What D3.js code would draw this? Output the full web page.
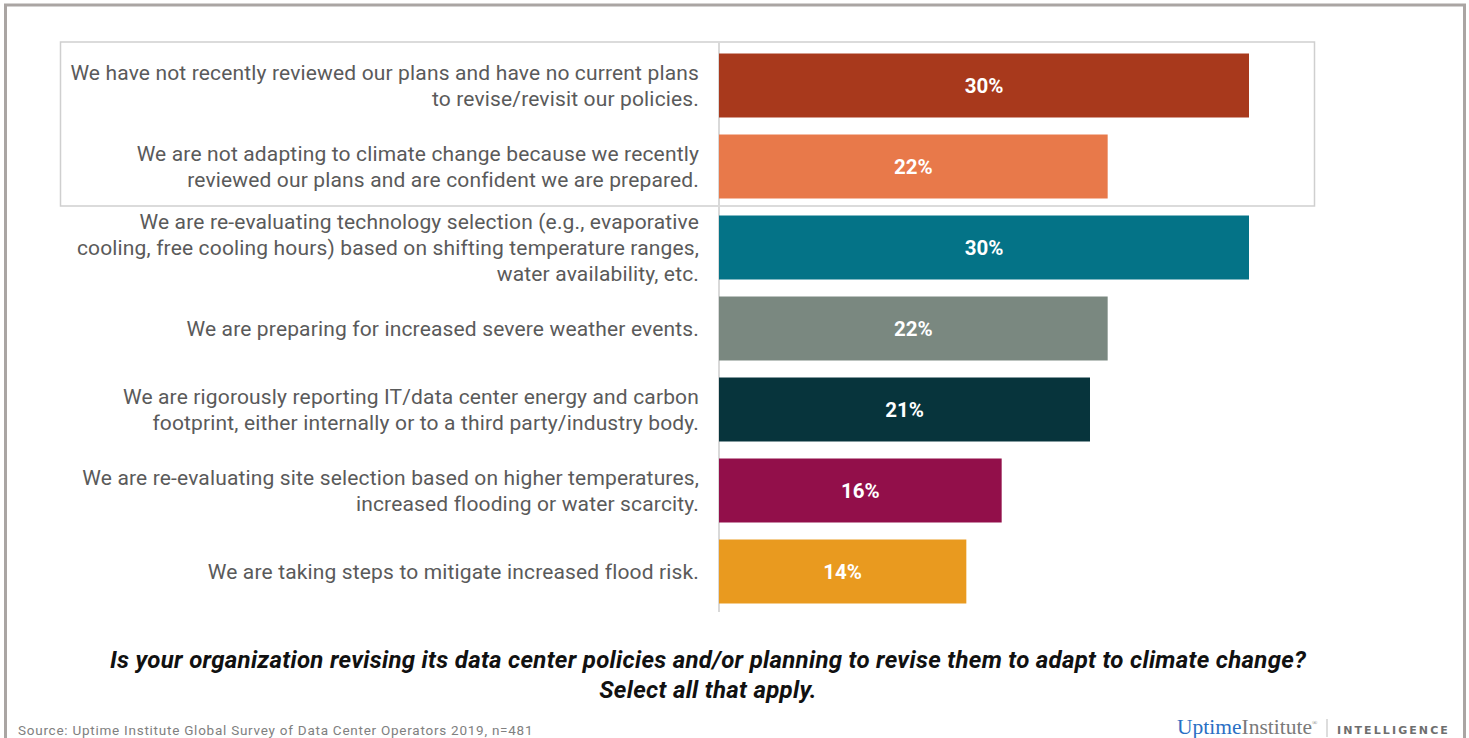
<!DOCTYPE html>
<html>
<head>
<meta charset="utf-8">
<script src="https://cdn.jsdelivr.net/npm/d3@7"></script>
<style>
  html, body { margin: 0; padding: 0; background: #ffffff; }
  svg { display: block; }
</style>
</head>
<body>
<svg id="chart" width="1469" height="738"></svg>
<script>
// Survey responses: each category label is split into its display lines
const categories = [
  ["We have not recently reviewed our plans and have no current plans", "to revise/revisit our policies."],
  ["We are not adapting to climate change because we recently", "reviewed our plans and are confident we are prepared."],
  ["We are re-evaluating technology selection (e.g., evaporative", "cooling, free cooling hours) based on shifting temperature ranges,", "water availability, etc."],
  ["We are preparing for increased severe weather events."],
  ["We are rigorously reporting IT/data center energy and carbon", "footprint, either internally or to a third party/industry body."],
  ["We are re-evaluating site selection based on higher temperatures,", "increased flooding or water scarcity."],
  ["We are taking steps to mitigate increased flood risk."]
];
const values = [30, 22, 30, 22, 21, 16, 14];
const barColors = ["#a8391c", "#e8794a", "#047387", "#7a8880", "#07343c", "#920f4a", "#e99a1f"];
const titleLines = [
  "Is your organization revising its data center policies and/or planning to revise them to adapt to climate change?",
  "Select all that apply."
];
const sourceText = "Source: Uptime Institute Global Survey of Data Center Operators 2019, n=481";

const svg = d3.select("#chart");
const ids = d3.range(categories.length);

// Outer frame
svg.append("rect")
  .attr("x", 5.5).attr("y", 5)
  .attr("width", 1459).attr("height", 800)
  .attr("fill", "none")
  .attr("stroke", "#aaa5a3")
  .attr("stroke-width", 3);

// Box highlighting the first two responses
svg.append("rect")
  .attr("x", 60.5).attr("y", 42)
  .attr("width", 1254).attr("height", 164)
  .attr("fill", "none")
  .attr("stroke", "#cfcfcf")
  .attr("stroke-width", 1.5);

const x = d3.scaleLinear().domain([0, 30]).range([719, 1249]);
const y = d3.scaleBand().domain(ids).range([45, 612])
  .paddingInner(0.21).paddingOuter(0.105);

// Category axis line
svg.append("line")
  .attr("x1", x(0)).attr("x2", x(0))
  .attr("y1", 42).attr("y2", 612)
  .attr("stroke", "#d9d9d9")
  .attr("stroke-width", 2);

// Bars
svg.append("g").selectAll("rect")
  .data(ids)
  .join("rect")
  .attr("x", x(0))
  .attr("y", i => y(i))
  .attr("width", i => x(values[i]) - x(0))
  .attr("height", y.bandwidth())
  .attr("fill", i => barColors[i]);

// Value labels inside the bars
svg.append("g").selectAll("text")
  .data(ids)
  .join("text")
  .attr("x", i => (x(0) + x(values[i])) / 2)
  .attr("y", i => y(i) + y.bandwidth() / 2)
  .attr("dy", "0.36em")
  .attr("text-anchor", "middle")
  .attr("fill", "#ffffff")
  .style("font-family", "Roboto, sans-serif")
  .style("font-weight", "700")
  .style("font-size", "20.5px")
  .text(i => d3.format(".0f")(values[i]) + "%");

// Category labels, right-aligned against the axis
const lineH = 25.6;
const catG = svg.append("g");
ids.forEach(i => {
  const lines = categories[i];
  const cy = y(i) + y.bandwidth() / 2;
  const t = catG.append("text")
    .attr("text-anchor", "end")
    .attr("fill", "#5a5a5a")
    .style("font-family", "Roboto, sans-serif")
    .style("font-size", "21px")
    .style("letter-spacing", "0.15px");
  lines.forEach((ln, k) => {
    t.append("tspan")
      .attr("x", 699)
      .attr("y", cy + (k - (lines.length - 1) / 2) * lineH)
      .attr("dy", "0.36em")
      .text(ln);
  });
});

// Question
svg.append("g").selectAll("text")
  .data(titleLines)
  .join("text")
  .attr("x", 708)
  .attr("y", (d, k) => 668 + k * 30)
  .attr("text-anchor", "middle")
  .attr("fill", "#111111")
  .style("font-family", "Roboto, sans-serif")
  .style("font-weight", "700")
  .style("font-style", "italic")
  .style("font-size", "24px")
  .style("letter-spacing", "0.3px")
  .text(d => d);

// Source note
svg.append("text")
  .attr("x", 18).attr("y", 735)
  .attr("fill", "#808080")
  .style("font-family", "Roboto, sans-serif")
  .style("font-size", "13.5px")
  .style("letter-spacing", "0.75px")
  .text(sourceText);

// Publisher mark
const logo = svg.append("g");
const brand = logo.append("text")
  .attr("x", 1177).attr("y", 734)
  .style("font-family", "'Liberation Serif', serif")
  .style("font-size", "21.5px");
brand.append("tspan").attr("fill", "#2a6fc4").text("Uptime");
brand.append("tspan").attr("fill", "#7a7a7a").text("Institute");
brand.append("tspan").attr("fill", "#7a7a7a").attr("font-size", "7px").attr("dy", "-9").text("®");
logo.append("line")
  .attr("x1", 1327).attr("x2", 1327)
  .attr("y1", 719).attr("y2", 737)
  .attr("stroke", "#bbbbbb").attr("stroke-width", 1);
logo.append("text")
  .attr("x", 1337).attr("y", 734)
  .attr("fill", "#6e6e6e")
  .style("font-family", "'DejaVu Sans', sans-serif")
  .style("font-weight", "700")
  .style("font-size", "11px")
  .style("letter-spacing", "2.1px")
  .text("INTELLIGENCE");
</script>
</body>
</html>
